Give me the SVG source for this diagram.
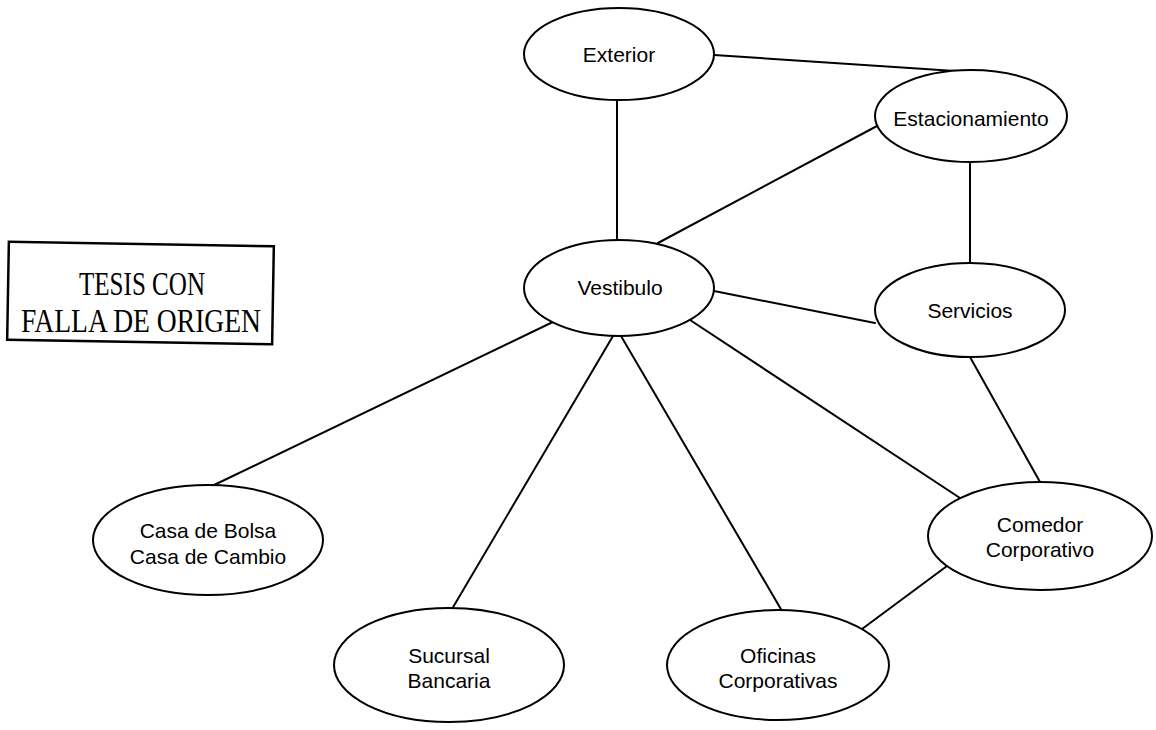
<svg xmlns="http://www.w3.org/2000/svg" width="1156" height="730" viewBox="0 0 1156 730">
  <style>
    .node ellipse { fill: #ffffff; stroke: #000000; stroke-width: 2; }
    .node text { font-family: "Liberation Sans", Arial, sans-serif; font-size: 21px; fill: #000000; text-anchor: middle; dominant-baseline: central; }
    #connectors line { stroke: #000000; stroke-width: 2; stroke-linecap: round; }
    .stamp rect { fill: none; stroke: #000000; stroke-width: 2.5; }
    .stamp text { font-family: "Liberation Serif", "Times New Roman", serif; font-size: 34px; fill: #000000; text-anchor: middle; dominant-baseline: central; }
  </style>
  <rect width="1156" height="730" fill="#ffffff"/>

  <!-- connectors -->
  <g id="connectors">
    <line x1="617" y1="100" x2="617" y2="241"/>
    <line x1="714" y1="55" x2="955" y2="71"/>
    <line x1="658" y1="243" x2="877" y2="126"/>
    <line x1="970" y1="162" x2="970" y2="263"/>
    <line x1="714" y1="291" x2="875" y2="323"/>
    <line x1="970" y1="357" x2="1040" y2="482"/>
    <line x1="687" y1="318" x2="960" y2="498"/>
    <line x1="557" y1="320" x2="212" y2="486"/>
    <line x1="613" y1="336" x2="452" y2="609"/>
    <line x1="621" y1="336" x2="782" y2="611"/>
    <line x1="947" y1="566" x2="862" y2="629"/>
  </g>

  <!-- nodes -->
  <g id="exterior" class="node">
    <ellipse cx="619" cy="54" rx="95" ry="46"/>
    <text x="619" y="54">Exterior</text>
  </g>
  <g id="estacionamiento" class="node">
    <ellipse cx="971" cy="116" rx="96" ry="46"/>
    <text x="971" y="118">Estacionamiento</text>
  </g>
  <g id="vestibulo" class="node">
    <ellipse cx="619" cy="288" rx="95" ry="48"/>
    <text x="620" y="287">Vestibulo</text>
  </g>
  <g id="servicios" class="node">
    <ellipse cx="970" cy="310" rx="95" ry="47"/>
    <text x="970" y="310">Servicios</text>
  </g>
  <g id="casa" class="node">
    <ellipse cx="208" cy="540" rx="115" ry="55"/>
    <text x="208" y="530">Casa de Bolsa</text>
    <text x="208" y="556">Casa de Cambio</text>
  </g>
  <g id="comedor" class="node">
    <ellipse cx="1040" cy="536" rx="112" ry="54"/>
    <text x="1040" y="524">Comedor</text>
    <text x="1040" y="549">Corporativo</text>
  </g>
  <g id="sucursal" class="node">
    <ellipse cx="449" cy="665" rx="115" ry="57"/>
    <text x="449" y="655">Sucursal</text>
    <text x="449" y="680">Bancaria</text>
  </g>
  <g id="oficinas" class="node">
    <ellipse cx="778" cy="665" rx="111" ry="55"/>
    <text x="778" y="655">Oficinas</text>
    <text x="778" y="680">Corporativas</text>
  </g>

  <!-- stamp -->
  <g id="stamp" class="stamp">
    <rect x="8" y="244" width="265" height="98" transform="rotate(1 140 293)"/>
    <text x="142" y="283" textLength="126" lengthAdjust="spacingAndGlyphs">TESIS CON</text>
    <text x="141" y="320" textLength="240" lengthAdjust="spacingAndGlyphs">FALLA DE ORIGEN</text>
  </g>
</svg>
